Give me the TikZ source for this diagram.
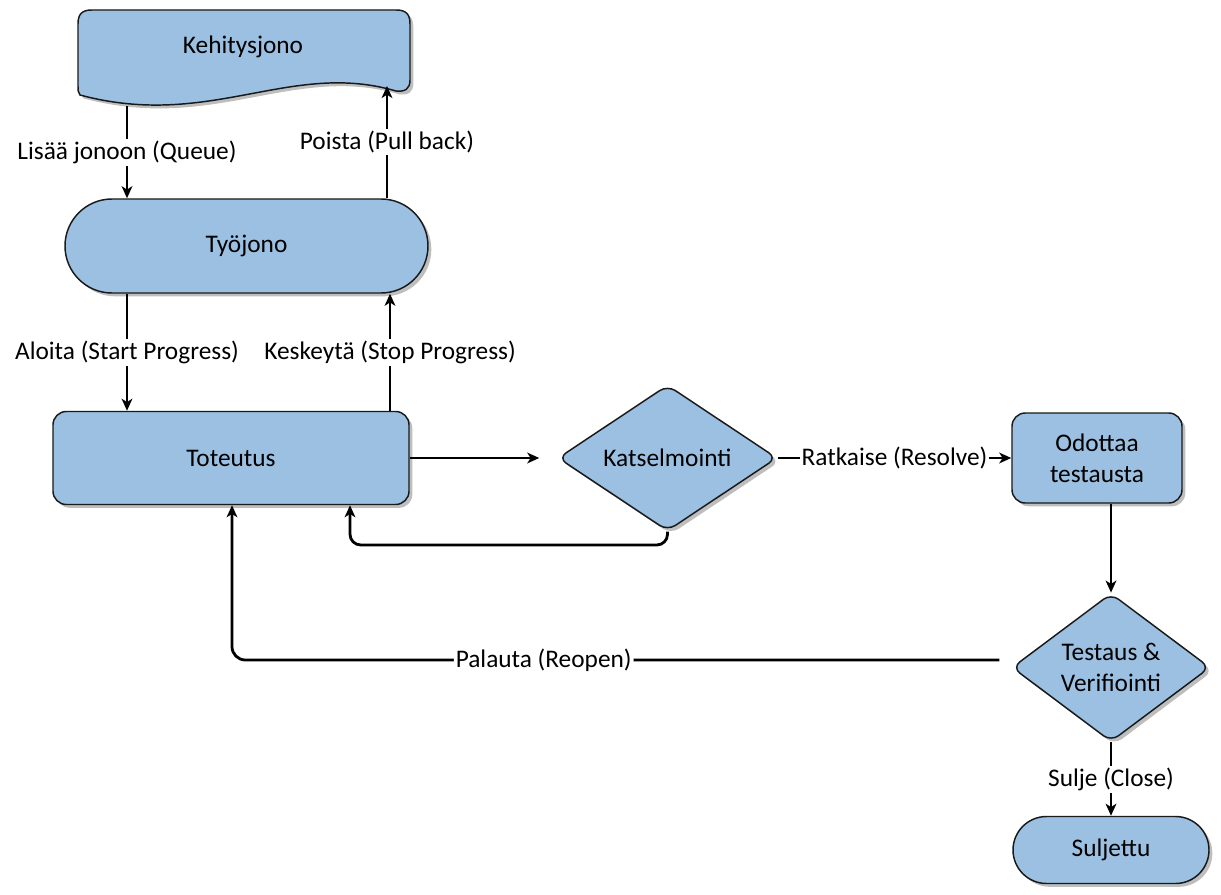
\documentclass[tikz,border=0pt]{standalone}
\usepackage{fontspec}
\setmainfont{Carlito}
\usetikzlibrary{shapes.geometric,shapes.misc,arrows.meta,shadows,calc}
\definecolor{boxfill}{RGB}{155,192,225}
\definecolor{boxline}{RGB}{25,25,25}
\definecolor{shadowc}{RGB}{190,190,190}
\begin{document}
\begin{tikzpicture}[x=0.75pt,y=-0.75pt,
  font=\fontsize{19}{23}\selectfont,
  boxbase/.style={draw=boxline, line width=1.1pt, fill=boxfill,
    drop shadow={shadow xshift=2.5pt, shadow yshift=-2.5pt, fill=shadowc, opacity=1},
    align=center, inner sep=0pt},
  rbox/.style={boxbase, rectangle, rounded corners=10pt},
  stad/.style={boxbase, rounded rectangle},
  dia/.style={boxbase, diamond, rounded corners=7pt},
  conn/.style={line width=2.1pt, -{Stealth[length=9pt,width=8pt,inset=2.5pt]}},
  lbl/.style={fill=white, inner sep=1.5pt}]
\useasboundingbox (0,0) rectangle (1221,895);

% document shape (Kehitysjono)
\path[draw=boxline, line width=1.1pt, fill=boxfill,
  preaction={fill=shadowc, transform canvas={shift={(2.5pt,-2.5pt)}}}]
  (78,85) -- (78,24) .. controls (78,14) and (82,10) .. (92,10)
  -- (396,10) .. controls (406,10) and (410,14) .. (410,24)
  -- (410,80) .. controls (410,89) and (405,92) .. (396,91)
  .. controls (290,60) and (210,130) .. (80,95)
  .. controls (78,93) and (78,90) .. (78,85) -- cycle;
\node (keh) at (243,47) {Kehitysjono};
\coordinate (kq) at (127,106);
\coordinate (kp) at (387,86);

\node[stad, minimum width=272.25pt, minimum height=70.5pt] (tyo) at (246.5,246) {Työjono};
\node[rbox, minimum width=267pt, minimum height=69.75pt] (tot) at (231,458) {Toteutus};
\node[dia, minimum width=164.25pt, minimum height=90.75pt] (kat) at (667.5,458) {Katselmointi};
\node[rbox, minimum width=127.5pt, minimum height=67.5pt] (odo) at (1097,458) {Odottaa\\testausta};
\node[dia, minimum width=148.5pt, minimum height=105.75pt] (tes) at (1111,667.5) {Testaus \&\\Verifiointi};
\node[stad, minimum width=147pt, minimum height=50.25pt] (sul) at (1111,850) {Suljettu};

\coordinate (xq) at (127,0);
\coordinate (xp) at (387,0);
\coordinate (xs) at (390,0);
\coordinate (lp) at (350,545);
\coordinate (rp) at (232,660);

\draw[conn] (kq) -- node[lbl]{Lisää jonoon (Queue)} (tyo.north -| xq);
\draw[conn] (tyo.north -| xp) -- node[lbl]{Poista (Pull back)} (kp);
\draw[conn] (tyo.south -| xq) -- node[lbl]{Aloita (Start Progress)} (tot.north -| xq);
\draw[conn] (tot.north -| xs) -- node[lbl]{Keskeytä (Stop Progress)} (tyo.south -| xs);
\draw[conn, shorten >=13.5pt] (tot.east) -- (kat.west);
\draw[conn, rounded corners=8pt] (kat.south) |- (lp) -- (tot.south -| lp);
\draw[conn] (kat.east) -- node[lbl]{Ratkaise (Resolve)} (odo.west);
\draw[conn] (odo.south -| tes.north) -- (tes.north);
\draw[conn, rounded corners=10pt, shorten <=9pt] (rp -| tes.west) -- node[lbl, pos=0.6]{Palauta (Reopen)} (rp) -- (tot.south -| rp);
\draw[conn] (tes.south) -- node[lbl]{Sulje (Close)} (sul.north);
\end{tikzpicture}
\end{document}
